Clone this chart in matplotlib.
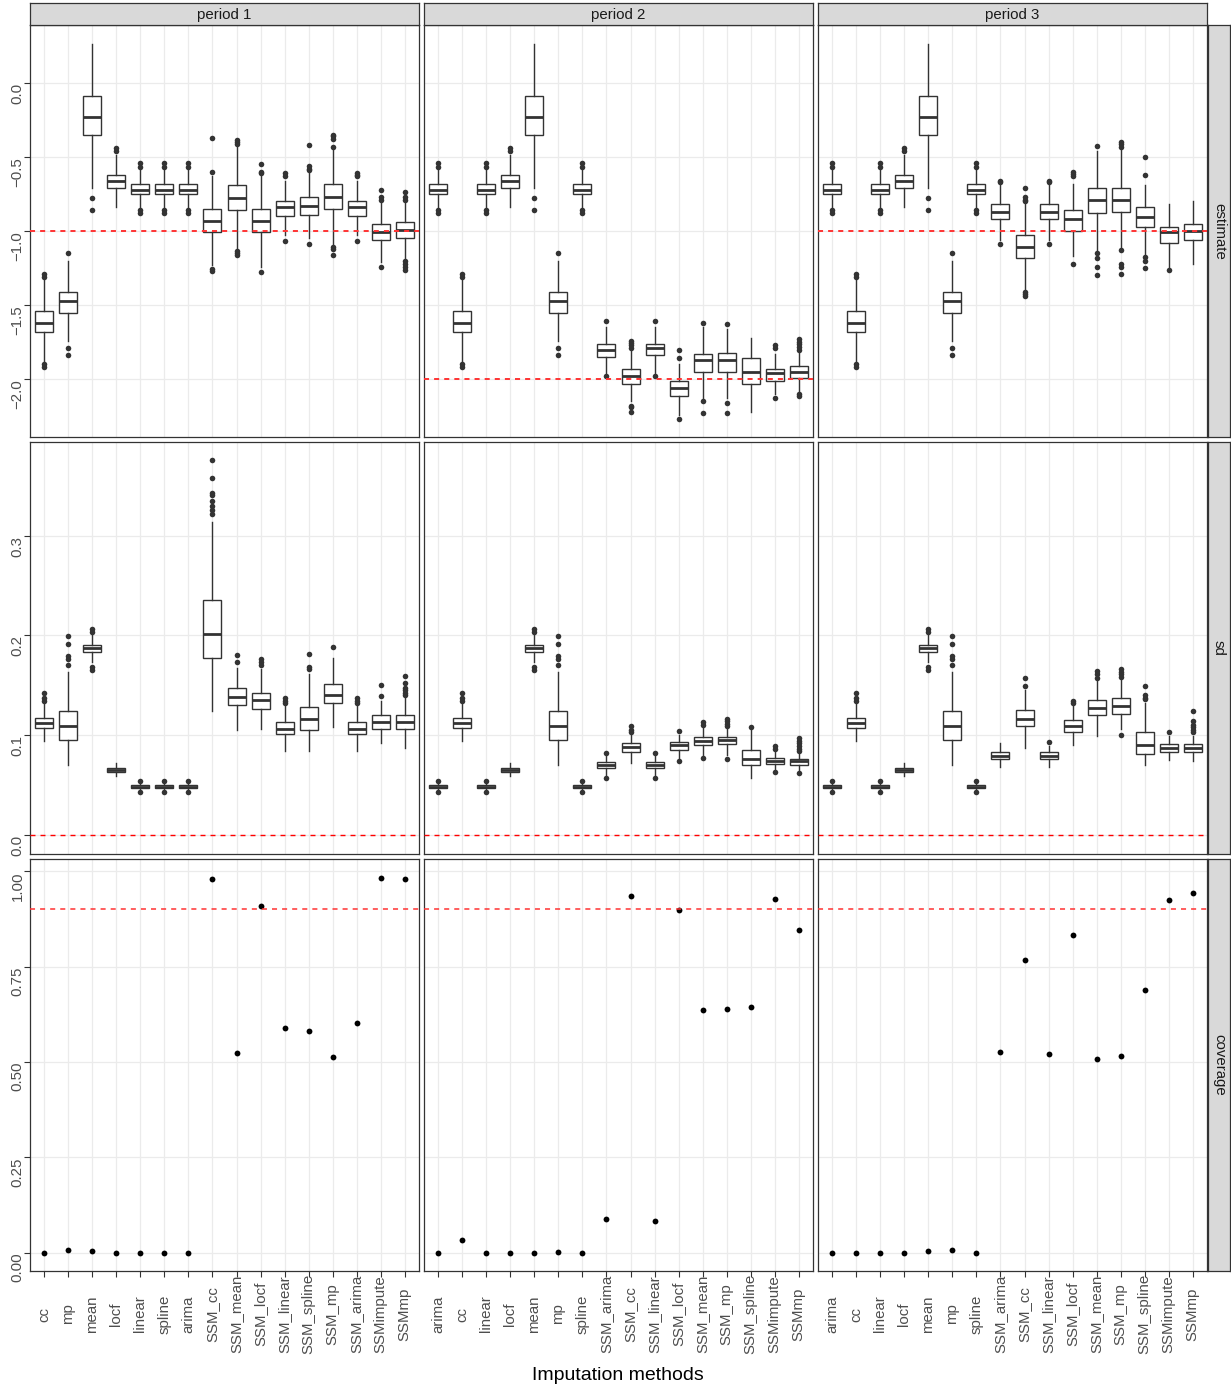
import numpy as np
import matplotlib.pyplot as plt

plt.rcParams['font.family'] = ['Liberation Sans', 'DejaVu Sans']

W, H = 1231, 1388

periods = ['period 1', 'period 2', 'period 3']
measures = ['estimate', 'sd', 'coverage']

methods_p1 = ['cc', 'mp', 'mean', 'locf', 'linear', 'spline', 'arima',
              'SSM_cc', 'SSM_mean', 'SSM_locf', 'SSM_linear', 'SSM_spline',
              'SSM_mp', 'SSM_arima', 'SSMimpute', 'SSMmp']
methods_p23 = ['arima', 'cc', 'linear', 'locf', 'mean', 'mp', 'spline',
               'SSM_arima', 'SSM_cc', 'SSM_linear', 'SSM_locf', 'SSM_mean',
               'SSM_mp', 'SSM_spline', 'SSMimpute', 'SSMmp']

# reference lines (true value / nominal coverage)
est_true = [-1.0, -2.0, -1.0]
sd_true = 0.0
cov_nominal = 0.9

# boxplot summaries: (whislo, q1, median, q3, whishi)
est_p1 = [(-1.88, -1.68, -1.62, -1.54, -1.33), (-1.74, -1.55, -1.47, -1.41, -1.20),
          (-0.71, -0.35, -0.23, -0.09, 0.265), (-0.84, -0.71, -0.66, -0.62, -0.49),
          (-0.84, -0.75, -0.72, -0.68, -0.59), (-0.84, -0.75, -0.72, -0.68, -0.59),
          (-0.84, -0.75, -0.72, -0.68, -0.59), (-1.23, -1.01, -0.93, -0.85, -0.63),
          (-1.12, -0.86, -0.78, -0.69, -0.43), (-1.24, -1.01, -0.93, -0.85, -0.63),
          (-1.03, -0.90, -0.84, -0.80, -0.66), (-1.05, -0.89, -0.83, -0.77, -0.61),
          (-1.09, -0.85, -0.77, -0.68, -0.45), (-1.03, -0.90, -0.84, -0.80, -0.66),
          (-1.21, -1.06, -1.01, -0.95, -0.80), (-1.18, -1.045, -0.99, -0.94, -0.81)]
est_p1_out = [[-1.29, -1.31, -1.90, -1.92], [-1.15, -1.79, -1.84], [-0.78, -0.86],
              [-0.44, -0.46], [-0.54, -0.57, -0.855, -0.88], [-0.54, -0.57, -0.855, -0.88],
              [-0.54, -0.57, -0.855, -0.88], [-0.373, -0.60, -1.255, -1.27],
              [-0.385, -0.40, -0.41, -1.135, -1.15, -1.165], [-0.55, -0.60, -0.61, -1.28],
              [-0.61, -0.63, -1.07], [-0.42, -0.56, -0.58, -0.59, -1.09],
              [-0.35, -0.36, -0.38, -0.43, -1.11, -1.12, -1.165], [-0.61, -0.62, -0.63, -1.07],
              [-0.72, -0.77, -0.79, -1.24], [-0.74, -0.77, -0.79, -1.20, -1.22, -1.24, -1.26]]

est_p2 = [(-0.84, -0.75, -0.72, -0.68, -0.59), (-1.88, -1.68, -1.62, -1.54, -1.33),
          (-0.84, -0.75, -0.72, -0.68, -0.59), (-0.84, -0.71, -0.66, -0.62, -0.49),
          (-0.71, -0.35, -0.23, -0.09, 0.265), (-1.74, -1.55, -1.47, -1.41, -1.20),
          (-0.84, -0.75, -0.72, -0.68, -0.59), (-1.96, -1.85, -1.80, -1.76, -1.65),
          (-2.15, -2.03, -1.98, -1.93, -1.80), (-1.96, -1.84, -1.79, -1.76, -1.65),
          (-2.24, -2.115, -2.06, -2.01, -1.90), (-2.13, -1.95, -1.87, -1.83, -1.65),
          (-2.13, -1.95, -1.87, -1.82, -1.66), (-2.22, -2.03, -1.95, -1.86, -1.72),
          (-2.10, -2.01, -1.96, -1.93, -1.83), (-2.08, -1.99, -1.95, -1.91, -1.81)]
est_p2_out = [[-0.54, -0.57, -0.855, -0.88], [-1.29, -1.31, -1.90, -1.92],
              [-0.54, -0.57, -0.855, -0.88], [-0.44, -0.46], [-0.78, -0.86],
              [-1.15, -1.79, -1.84], [-0.54, -0.57, -0.855, -0.88], [-1.61, -1.98],
              [-1.74, -1.755, -1.77, -1.79, -2.18, -2.19, -2.22], [-1.61, -1.98],
              [-1.805, -1.86, -2.27], [-1.62, -2.15, -2.23], [-1.63, -2.16, -2.23], [],
              [-1.77, -1.79, -2.13], [-1.73, -1.75, -1.765, -1.78, -1.80, -2.10, -2.115]]

est_p3 = [(-0.84, -0.75, -0.72, -0.68, -0.59), (-1.88, -1.68, -1.62, -1.54, -1.33),
          (-0.84, -0.75, -0.72, -0.68, -0.59), (-0.84, -0.71, -0.66, -0.62, -0.49),
          (-0.71, -0.35, -0.23, -0.09, 0.265), (-1.74, -1.55, -1.47, -1.41, -1.20),
          (-0.84, -0.75, -0.72, -0.68, -0.59), (-1.06, -0.92, -0.87, -0.82, -0.69),
          (-1.39, -1.18, -1.11, -1.03, -0.82), (-1.06, -0.92, -0.87, -0.82, -0.69),
          (-1.17, -1.00, -0.92, -0.86, -0.68), (-1.13, -0.88, -0.79, -0.71, -0.46),
          (-1.11, -0.87, -0.79, -0.71, -0.45), (-1.165, -0.97, -0.905, -0.84, -0.69),
          (-1.24, -1.08, -1.01, -0.97, -0.82), (-1.22, -1.06, -1.00, -0.95, -0.80)]
est_p3_out = [[-0.54, -0.57, -0.855, -0.88], [-1.29, -1.31, -1.90, -1.92],
              [-0.54, -0.57, -0.855, -0.88], [-0.44, -0.46], [-0.78, -0.86],
              [-1.15, -1.79, -1.84], [-0.54, -0.57, -0.855, -0.88], [-0.66, -0.67, -1.085],
              [-0.71, -0.77, -0.79, -0.80, -1.41, -1.425, -1.44], [-0.66, -0.67, -1.085],
              [-0.60, -0.615, -0.63, -1.22], [-0.425, -1.15, -1.18, -1.24, -1.30],
              [-0.40, -0.41, -0.43, -1.13, -1.22, -1.24, -1.29],
              [-0.50, -0.62, -1.175, -1.20, -1.25], [-1.26], []]

sd_p1 = [(0.094, 0.107, 0.112, 0.117, 0.131), (0.070, 0.095, 0.109, 0.124, 0.163),
         (0.173, 0.183, 0.187, 0.190, 0.201), (0.059, 0.063, 0.065, 0.067, 0.072),
         (0.045, 0.0465, 0.048, 0.0495, 0.051), (0.045, 0.0465, 0.048, 0.0495, 0.051),
         (0.045, 0.0465, 0.048, 0.0495, 0.051), (0.124, 0.177, 0.201, 0.235, 0.314),
         (0.1055, 0.130, 0.138, 0.147, 0.1675), (0.106, 0.126, 0.135, 0.142, 0.166),
         (0.084, 0.101, 0.1065, 0.113, 0.129), (0.084, 0.1055, 0.116, 0.128, 0.161),
         (0.108, 0.132, 0.140, 0.151, 0.1775), (0.084, 0.101, 0.1065, 0.113, 0.129),
         (0.092, 0.106, 0.113, 0.1196, 0.134), (0.087, 0.106, 0.113, 0.1196, 0.137)]
sd_p1_out = [[0.134, 0.137, 0.142], [0.170, 0.176, 0.179, 0.191, 0.199],
             [0.203, 0.206, 0.165, 0.168], [], [0.054, 0.043], [0.054, 0.043], [0.054, 0.043],
             [0.322, 0.326, 0.330, 0.335, 0.341, 0.343, 0.358, 0.376], [0.173, 0.180],
             [0.170, 0.173, 0.176], [0.132, 0.134, 0.137], [0.166, 0.1685, 0.181], [0.1885],
             [0.132, 0.134, 0.137], [0.139, 0.150], [0.140, 0.142, 0.145, 0.147, 0.152, 0.159]]

sd_p2 = [(0.045, 0.0465, 0.048, 0.0495, 0.051), (0.094, 0.107, 0.112, 0.117, 0.131),
         (0.045, 0.0465, 0.048, 0.0495, 0.051), (0.059, 0.063, 0.065, 0.067, 0.072),
         (0.173, 0.183, 0.187, 0.190, 0.201), (0.070, 0.095, 0.109, 0.124, 0.163),
         (0.045, 0.0465, 0.048, 0.0495, 0.051), (0.060, 0.067, 0.070, 0.073, 0.0787),
         (0.072, 0.083, 0.088, 0.0915, 0.1005), (0.060, 0.067, 0.070, 0.073, 0.0787),
         (0.077, 0.0854, 0.0895, 0.093, 0.1005), (0.080, 0.0898, 0.094, 0.098, 0.107),
         (0.080, 0.0905, 0.0945, 0.098, 0.106), (0.057, 0.070, 0.0764, 0.0848, 0.1055),
         (0.065, 0.0714, 0.0744, 0.077, 0.0838), (0.0647, 0.0704, 0.0737, 0.076, 0.082)]
sd_p2_out = [[0.054, 0.043], [0.134, 0.137, 0.142], [0.054, 0.043], [],
             [0.203, 0.206, 0.165, 0.168], [0.170, 0.176, 0.179, 0.191, 0.199], [0.054, 0.043],
             [0.082, 0.057], [0.103, 0.1055, 0.109], [0.082, 0.057], [0.104, 0.0737],
             [0.1105, 0.113, 0.077], [0.109, 0.111, 0.114, 0.116, 0.0764], [0.108],
             [0.0864, 0.0888, 0.0626], [0.084, 0.086, 0.089, 0.0915, 0.094, 0.0965, 0.062]]

sd_p3 = [(0.045, 0.0465, 0.048, 0.0495, 0.051), (0.094, 0.107, 0.112, 0.117, 0.131),
         (0.045, 0.0465, 0.048, 0.0495, 0.051), (0.059, 0.063, 0.065, 0.067, 0.072),
         (0.173, 0.183, 0.187, 0.190, 0.201), (0.070, 0.095, 0.109, 0.124, 0.163),
         (0.045, 0.0465, 0.048, 0.0495, 0.051), (0.068, 0.076, 0.0794, 0.0827, 0.092),
         (0.087, 0.109, 0.116, 0.125, 0.145), (0.068, 0.076, 0.0794, 0.0827, 0.0894),
         (0.090, 0.103, 0.109, 0.1146, 0.129), (0.0988, 0.1196, 0.127, 0.1347, 0.155),
         (0.106, 0.121, 0.1296, 0.1367, 0.156), (0.0704, 0.081, 0.090, 0.1028, 0.1323),
         (0.0747, 0.083, 0.087, 0.091, 0.0988), (0.0737, 0.083, 0.087, 0.091, 0.0988)]
sd_p3_out = [[0.054, 0.043], [0.134, 0.137, 0.142], [0.054, 0.043], [],
             [0.203, 0.206, 0.165, 0.168], [0.170, 0.176, 0.179, 0.191, 0.199], [0.054, 0.043],
             [], [0.149, 0.157], [0.0928], [0.1317, 0.134], [0.1575, 0.161, 0.164],
             [0.1585, 0.161, 0.163, 0.1665, 0.0998], [0.1357, 0.137, 0.140, 0.149], [0.1028],
             [0.103, 0.1055, 0.108, 0.1105, 0.114, 0.124]]

cov_p1 = [0.0, 0.007, 0.005, 0.0, 0.0, 0.0, 0.0, 0.98, 0.524, 0.91,
          0.589, 0.582, 0.514, 0.602, 0.983, 0.98]
cov_p2 = [0.0, 0.032, 0.0, 0.0, 0.0, 0.002, 0.0, 0.089, 0.936, 0.082,
          0.898, 0.636, 0.639, 0.644, 0.927, 0.846]
cov_p3 = [0.0, 0.0, 0.0, 0.0, 0.005, 0.007, 0.0, 0.526, 0.766, 0.522,
          0.832, 0.508, 0.516, 0.689, 0.925, 0.943]

est_ticks = [-2.0, -1.5, -1.0, -0.5, 0.0]
sd_ticks = [0.0, 0.1, 0.2, 0.3]
cov_ticks = [0.0, 0.25, 0.5, 0.75, 1.0]

est_lim = (-2.39, 0.39)
sd_lim = (-0.0194, 0.394)
cov_lim = (-0.048, 1.032)

###########################
dark = '#333333'
grid_col = '#EBEBEB'
txt_col = '#4D4D4D'
fs = 10.8


def rect(left, top, w, h):
    return [left / W, 1 - (top + h) / H, w / W, h / H]


def fmt(v, nd):
    s = f'{v:.{nd}f}'
    return s.replace('-', '\u2212')


def strip_axes(box):
    sax = fig.add_axes(box)
    sax.set_facecolor('#D9D9D9')
    sax.set_xticks([])
    sax.set_yticks([])
    for sp in sax.spines.values():
        sp.set_color(dark)
        sp.set_linewidth(0.9)
    return sax


fig = plt.figure(figsize=(W / 100, H / 100), dpi=100)

col_left = [30, 424, 818]
row_top = [25, 442, 859]
pw, ph = 389, 412

box_data = {0: [(est_p1, est_p1_out), (est_p2, est_p2_out), (est_p3, est_p3_out)],
            1: [(sd_p1, sd_p1_out), (sd_p2, sd_p2_out), (sd_p3, sd_p3_out)]}
cov_data = [cov_p1, cov_p2, cov_p3]
col_methods = [methods_p1, methods_p23, methods_p23]

row_ticks = [est_ticks, sd_ticks, cov_ticks]
row_lims = [est_lim, sd_lim, cov_lim]
row_nd = [1, 1, 2]

for r in range(3):
    for c in range(3):
        ax = fig.add_axes(rect(col_left[c], row_top[r], pw, ph))
        ax.set_axisbelow(True)
        pos = np.arange(1, 17)
        if r < 2:
            stats, outs = box_data[r][c]
            bstats = [dict(whislo=s[0], q1=s[1], med=s[2], q3=s[3], whishi=s[4],
                           fliers=o) for s, o in zip(stats, outs)]
            ax.bxp(bstats, positions=pos, widths=0.75, patch_artist=True,
                   showcaps=False,
                   boxprops=dict(facecolor='white', edgecolor=dark, linewidth=1.0),
                   medianprops=dict(color=dark, linewidth=2.0),
                   whiskerprops=dict(color=dark, linewidth=1.0),
                   flierprops=dict(marker='o', markersize=4, markerfacecolor=dark,
                                   markeredgecolor='none'))
        else:
            ax.plot(pos, cov_data[c], 'o', color='black', markersize=4.2,
                    markeredgewidth=0)

        if r == 0:
            ax.axhline(est_true[c], color='#FF3333', lw=1.4,
                       linestyle=(0, (2.6, 2.6)), zorder=4)
        elif r == 1:
            ax.axhline(sd_true, color='red', lw=1.0,
                       linestyle=(0, (3.6, 3.6)), zorder=4)
        else:
            ax.axhline(cov_nominal, color='#FF3333', lw=1.1,
                       linestyle=(0, (3.3, 3.3)), zorder=4)

        lo, hi = row_lims[r]
        ticks = row_ticks[r]
        step = (ticks[1] - ticks[0]) / 2
        minor = [t for t in np.arange(ticks[0] - step * 5, ticks[-1] + step * 5, step * 2) + step
                 if lo < t < hi]
        ax.set_yticks(minor, minor=True)
        if c == 0:
            ax.set_yticks(ticks, labels=[fmt(t, row_nd[r]) for t in ticks],
                          rotation=90, rotation_mode='anchor', ha='right',
                          va='baseline')
            ax.tick_params(axis='y', which='major', length=4, width=0.8,
                           color=dark, labelcolor=txt_col, labelsize=fs, pad=2)
        else:
            ax.set_yticks(ticks)
            ax.tick_params(axis='y', which='major', length=0, labelleft=False)
        ax.tick_params(axis='y', which='minor', length=0)

        if r == 2:
            ax.set_xticks(pos, labels=col_methods[c], rotation=90,
                          rotation_mode='anchor', ha='center', va='center')
            ax.tick_params(axis='x', length=4, width=0.8, color=dark,
                           labelcolor=txt_col, labelsize=fs, pad=27)
        else:
            ax.set_xticks(pos)
            ax.tick_params(axis='x', length=0, labelbottom=False)

        # limits last, so tick setting cannot widen them
        ax.set_xlim(0.4, 16.6)
        ax.set_ylim(lo, hi)

        ax.grid(which='major', color=grid_col, lw=0.9)
        ax.grid(which='minor', axis='y', color=grid_col, lw=0.45)
        for sp in ax.spines.values():
            sp.set_color(dark)
            sp.set_linewidth(0.9)

        if r == 0:
            sax = strip_axes(rect(col_left[c], 3, pw, 22))
            sax.text(0.5, 0.45, periods[c], ha='center', va='center',
                     fontsize=fs, color='#1A1A1A', transform=sax.transAxes)
        if c == 2:
            sax = strip_axes(rect(1208, row_top[r], 22, ph))
            sax.text(0.5, 0.5, measures[r], ha='center', va='center', rotation=-90,
                     fontsize=fs, color='#1A1A1A', transform=sax.transAxes)

fig.text(618 / W, 1 - 1376 / H, 'Imputation methods', ha='center', va='center',
         fontsize=14, color='black')

fig.savefig('out.png', dpi=100)
